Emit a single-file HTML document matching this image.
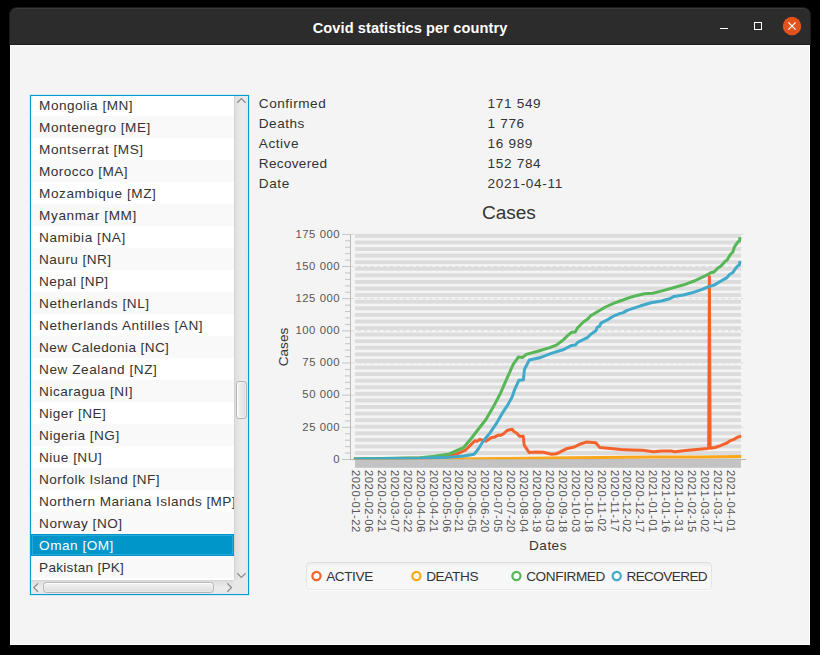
<!DOCTYPE html>
<html><head><meta charset="utf-8"><title>Covid statistics per country</title><style>
*{box-sizing:border-box;margin:0;padding:0}
html,body{width:820px;height:655px;overflow:hidden;background:#000}
body{position:relative;font-family:"Liberation Sans",sans-serif;}
.t{position:absolute;white-space:pre;font-family:"Liberation Sans",sans-serif;}
#frame{position:absolute;left:9px;top:7px;width:802px;height:38px;background:#1b1b1b;border-radius:8px 8px 0 0}
#tb{position:absolute;left:10px;top:8px;width:800px;height:36px;background:#2c2c2c;border-top:1px solid #3b3b3b;border-radius:7px 7px 0 0}
#title{position:absolute;left:10px;top:10px;width:800px;text-align:center;color:#fff;font-weight:bold;font-size:14.6px;line-height:36px;letter-spacing:0.09px}
#content{position:absolute;left:10px;top:45px;width:800px;height:600px;background:#f4f4f4;border:1px solid #fff}
.abs{position:absolute}
</style></head><body>
<div id="frame"></div><div id="tb"></div><div id="title">Covid statistics per country</div><div id="content"></div>
<div class="abs" style="left:720px;top:28px;width:8px;height:1px;background:#fff"></div>
<div class="abs" style="left:754px;top:22px;width:8px;height:8px;border:1px solid #fff"></div>
<svg class="abs" style="left:780px;top:14px" width="24" height="24" viewBox="0 0 24 24"><circle cx="12" cy="11.95" r="9.25" fill="#e2521d"/><path d="M8.4 8.4 L15.6 15.6 M15.6 8.4 L8.4 15.6" stroke="#fff" stroke-width="1.2" fill="none"/></svg>
<div class="abs" style="left:28.6px;top:93.6px;width:221.8px;height:502.8px;background:rgba(3,158,211,0.13);border-radius:2px"></div>
<div class="abs" style="left:29.7px;top:94.7px;width:219.6px;height:500.6px;background:#039ed3"></div>
<div class="abs" id="lv" style="left:31px;top:96px;width:217px;height:498px;background:#fff;overflow:hidden">
<div class="abs" style="left:0;top:-2px;width:203px;height:22px;background:#fff"></div>
<div class="t " style="left:8.10px;top:-0.21px;font-size:13.58px;line-height:19px;letter-spacing:0.495px;color:#333;">Mongolia [MN]</div>
<div class="abs" style="left:0;top:20px;width:203px;height:22px;background:#f9f9f9"></div>
<div class="t " style="left:8.10px;top:21.79px;font-size:13.58px;line-height:19px;letter-spacing:0.501px;color:#333;">Montenegro [ME]</div>
<div class="abs" style="left:0;top:42px;width:203px;height:22px;background:#fff"></div>
<div class="t " style="left:8.10px;top:43.79px;font-size:13.58px;line-height:19px;letter-spacing:0.528px;color:#333;">Montserrat [MS]</div>
<div class="abs" style="left:0;top:64px;width:203px;height:22px;background:#f9f9f9"></div>
<div class="t " style="left:8.10px;top:65.79px;font-size:13.58px;line-height:19px;letter-spacing:0.419px;color:#333;">Morocco [MA]</div>
<div class="abs" style="left:0;top:86px;width:203px;height:22px;background:#fff"></div>
<div class="t " style="left:8.10px;top:87.79px;font-size:13.58px;line-height:19px;letter-spacing:0.577px;color:#333;">Mozambique [MZ]</div>
<div class="abs" style="left:0;top:108px;width:203px;height:22px;background:#f9f9f9"></div>
<div class="t " style="left:8.10px;top:109.79px;font-size:13.58px;line-height:19px;letter-spacing:0.602px;color:#333;">Myanmar [MM]</div>
<div class="abs" style="left:0;top:130px;width:203px;height:22px;background:#fff"></div>
<div class="t " style="left:8.10px;top:131.79px;font-size:13.58px;line-height:19px;letter-spacing:0.555px;color:#333;">Namibia [NA]</div>
<div class="abs" style="left:0;top:152px;width:203px;height:22px;background:#f9f9f9"></div>
<div class="t " style="left:8.10px;top:153.79px;font-size:13.58px;line-height:19px;letter-spacing:0.460px;color:#333;">Nauru [NR]</div>
<div class="abs" style="left:0;top:174px;width:203px;height:22px;background:#fff"></div>
<div class="t " style="left:8.10px;top:175.79px;font-size:13.58px;line-height:19px;letter-spacing:0.370px;color:#333;">Nepal [NP]</div>
<div class="abs" style="left:0;top:196px;width:203px;height:22px;background:#f9f9f9"></div>
<div class="t " style="left:8.10px;top:197.79px;font-size:13.58px;line-height:19px;letter-spacing:0.534px;color:#333;">Netherlands [NL]</div>
<div class="abs" style="left:0;top:218px;width:203px;height:22px;background:#fff"></div>
<div class="t " style="left:8.10px;top:219.79px;font-size:13.58px;line-height:19px;letter-spacing:0.554px;color:#333;">Netherlands Antilles [AN]</div>
<div class="abs" style="left:0;top:240px;width:203px;height:22px;background:#f9f9f9"></div>
<div class="t " style="left:8.10px;top:241.79px;font-size:13.58px;line-height:19px;letter-spacing:0.398px;color:#333;">New Caledonia [NC]</div>
<div class="abs" style="left:0;top:262px;width:203px;height:22px;background:#fff"></div>
<div class="t " style="left:8.10px;top:263.79px;font-size:13.58px;line-height:19px;letter-spacing:0.554px;color:#333;">New Zealand [NZ]</div>
<div class="abs" style="left:0;top:284px;width:203px;height:22px;background:#f9f9f9"></div>
<div class="t " style="left:8.10px;top:285.79px;font-size:13.58px;line-height:19px;letter-spacing:0.516px;color:#333;">Nicaragua [NI]</div>
<div class="abs" style="left:0;top:306px;width:203px;height:22px;background:#fff"></div>
<div class="t " style="left:8.10px;top:307.79px;font-size:13.58px;line-height:19px;letter-spacing:0.449px;color:#333;">Niger [NE]</div>
<div class="abs" style="left:0;top:328px;width:203px;height:22px;background:#f9f9f9"></div>
<div class="t " style="left:8.10px;top:329.79px;font-size:13.58px;line-height:19px;letter-spacing:0.487px;color:#333;">Nigeria [NG]</div>
<div class="abs" style="left:0;top:350px;width:203px;height:22px;background:#fff"></div>
<div class="t " style="left:8.10px;top:351.79px;font-size:13.58px;line-height:19px;letter-spacing:0.467px;color:#333;">Niue [NU]</div>
<div class="abs" style="left:0;top:372px;width:203px;height:22px;background:#f9f9f9"></div>
<div class="t " style="left:8.10px;top:373.79px;font-size:13.58px;line-height:19px;letter-spacing:0.447px;color:#333;">Norfolk Island [NF]</div>
<div class="abs" style="left:0;top:394px;width:203px;height:22px;background:#fff"></div>
<div class="t " style="left:8.10px;top:395.79px;font-size:13.58px;line-height:19px;letter-spacing:0.443px;color:#333;">Northern Mariana Islands [MP]</div>
<div class="abs" style="left:0;top:416px;width:203px;height:22px;background:#f9f9f9"></div>
<div class="t " style="left:8.10px;top:417.79px;font-size:13.58px;line-height:19px;letter-spacing:0.527px;color:#333;">Norway [NO]</div>
<div class="abs" style="left:0;top:438px;width:203px;height:22px;background:#0096c9;border:1px solid #0096c9;box-shadow:inset 0 0 0 1px #2ba8d8"></div>
<div class="t " style="left:8.10px;top:439.79px;font-size:13.58px;line-height:19px;letter-spacing:0.514px;color:#fff;">Oman [OM]</div>
<div class="abs" style="left:0;top:460px;width:203px;height:22px;background:#f9f9f9"></div>
<div class="t " style="left:8.10px;top:461.79px;font-size:13.58px;line-height:19px;letter-spacing:0.272px;color:#333;">Pakistan [PK]</div>
<div class="abs" style="left:203px;top:0;width:14px;height:484px;background:linear-gradient(to right,#dedede,#ececec 55%,#e6e6e6);border-left:1px solid #d4d4d4"></div>
<div class="abs" style="left:205.2px;top:285.2px;width:10.6px;height:38.2px;border:1px solid #b4b4b4;border-radius:3px;background:linear-gradient(to right,#f4f4f4,#dcdcdc);box-shadow:inset 1px 0 0 0 rgba(255,255,255,.9),inset 0 0 0 1px rgba(255,255,255,.35)"></div>
<svg class="abs" style="left:203px;top:0" width="14" height="484" viewBox="0 0 14 484"><path d="M3.2 6.8 L7.4 2.6 L11.6 6.8" stroke="#8c8c8c" stroke-width="1.3" fill="none"/><path d="M3.2 477.2 L7.4 481.4 L11.6 477.2" stroke="#8c8c8c" stroke-width="1.3" fill="none"/></svg>
<div class="abs" style="left:0;top:484px;width:203px;height:14px;background:linear-gradient(to bottom,#dedede,#ececec 55%,#e6e6e6);border-top:1px solid #d4d4d4"></div>
<div class="abs" style="left:203px;top:484px;width:14px;height:14px;background:#e8e8e8"></div>
<div class="abs" style="left:11.9px;top:486.3px;width:170.8px;height:10.4px;border:1px solid #b4b4b4;border-radius:3.5px;background:linear-gradient(to bottom,#f4f4f4,#dcdcdc);box-shadow:inset 0 1px 0 0 rgba(255,255,255,.9),inset 0 0 0 1px rgba(255,255,255,.35)"></div>
<svg class="abs" style="left:0;top:484px" width="203" height="14" viewBox="0 0 203 14"><path d="M7 3.4 L2.8 7.6 L7 11.8" stroke="#8c8c8c" stroke-width="1.3" fill="none"/><path d="M196.3 3.4 L200.5 7.6 L196.3 11.8" stroke="#8c8c8c" stroke-width="1.3" fill="none"/></svg>
</div>
<div class="t " style="left:258.80px;top:93.59px;font-size:13.58px;line-height:19px;letter-spacing:0.536px;color:#333;">Confirmed</div>
<div class="t " style="left:487.60px;top:93.59px;font-size:13.58px;line-height:19px;letter-spacing:0.665px;color:#333;">171 549</div>
<div class="t " style="left:258.80px;top:113.59px;font-size:13.58px;line-height:19px;letter-spacing:0.507px;color:#333;">Deaths</div>
<div class="t " style="left:487.60px;top:113.59px;font-size:13.58px;line-height:19px;letter-spacing:0.644px;color:#333;">1 776</div>
<div class="t " style="left:258.80px;top:133.59px;font-size:13.58px;line-height:19px;letter-spacing:0.536px;color:#333;">Active</div>
<div class="t " style="left:487.60px;top:133.59px;font-size:13.58px;line-height:19px;letter-spacing:0.656px;color:#333;">16 989</div>
<div class="t " style="left:258.80px;top:153.59px;font-size:13.58px;line-height:19px;letter-spacing:0.317px;color:#333;">Recovered</div>
<div class="t " style="left:487.60px;top:153.59px;font-size:13.58px;line-height:19px;letter-spacing:0.665px;color:#333;">152 784</div>
<div class="t " style="left:258.80px;top:173.59px;font-size:13.58px;line-height:19px;letter-spacing:0.594px;color:#333;">Date</div>
<div class="t " style="left:487.60px;top:173.59px;font-size:13.58px;line-height:19px;letter-spacing:0.707px;color:#333;">2021-04-11</div>
<div class="t " style="left:481.89px;top:198.81px;font-size:19.02px;line-height:27px;letter-spacing:0.023px;color:#333;">Cases</div>
<div class="t" style="left:233.5px;top:336.5px;width:100px;height:20px;line-height:20px;text-align:center;font-size:13.58px;letter-spacing:0.016px;color:#333;transform:rotate(-90deg)">Cases</div>
<div class="t " style="left:529.08px;top:535.69px;font-size:13.58px;line-height:19px;letter-spacing:0.471px;color:#333;">Dates</div>
<div class="t " style="left:333.31px;top:450.68px;font-size:11.32px;line-height:16px;letter-spacing:0.596px;color:#575757;">0</div>
<div class="t " style="left:302.30px;top:418.52px;font-size:11.32px;line-height:16px;letter-spacing:0.547px;color:#575757;">25 000</div>
<div class="t " style="left:302.30px;top:386.36px;font-size:11.32px;line-height:16px;letter-spacing:0.547px;color:#575757;">50 000</div>
<div class="t " style="left:302.30px;top:354.20px;font-size:11.32px;line-height:16px;letter-spacing:0.547px;color:#575757;">75 000</div>
<div class="t " style="left:295.41px;top:322.04px;font-size:11.32px;line-height:16px;letter-spacing:0.554px;color:#575757;">100 000</div>
<div class="t " style="left:295.41px;top:289.88px;font-size:11.32px;line-height:16px;letter-spacing:0.554px;color:#575757;">125 000</div>
<div class="t " style="left:295.41px;top:257.72px;font-size:11.32px;line-height:16px;letter-spacing:0.554px;color:#575757;">150 000</div>
<div class="t " style="left:295.41px;top:225.56px;font-size:11.32px;line-height:16px;letter-spacing:0.554px;color:#575757;">175 000</div>
<svg class="abs" style="left:0;top:0" width="820" height="655" viewBox="0 0 820 655">
<rect x="355.0" y="233.95" width="386.0" height="3.90" fill="#dcdcdc"/>
<rect x="355.0" y="240.53" width="386.0" height="3.90" fill="#dcdcdc"/>
<rect x="355.0" y="247.11" width="386.0" height="3.90" fill="#dcdcdc"/>
<rect x="355.0" y="253.69" width="386.0" height="3.90" fill="#dcdcdc"/>
<rect x="355.0" y="260.27" width="386.0" height="3.90" fill="#dcdcdc"/>
<rect x="355.0" y="266.85" width="386.0" height="3.90" fill="#dcdcdc"/>
<rect x="355.0" y="273.43" width="386.0" height="3.90" fill="#dcdcdc"/>
<rect x="355.0" y="280.01" width="386.0" height="3.90" fill="#dcdcdc"/>
<rect x="355.0" y="286.59" width="386.0" height="3.90" fill="#dcdcdc"/>
<rect x="355.0" y="293.17" width="386.0" height="3.90" fill="#dcdcdc"/>
<rect x="355.0" y="299.75" width="386.0" height="3.90" fill="#dcdcdc"/>
<rect x="355.0" y="306.33" width="386.0" height="3.90" fill="#dcdcdc"/>
<rect x="355.0" y="312.91" width="386.0" height="3.90" fill="#dcdcdc"/>
<rect x="355.0" y="319.49" width="386.0" height="3.90" fill="#dcdcdc"/>
<rect x="355.0" y="326.07" width="386.0" height="3.90" fill="#dcdcdc"/>
<rect x="355.0" y="332.65" width="386.0" height="3.90" fill="#dcdcdc"/>
<rect x="355.0" y="339.23" width="386.0" height="3.90" fill="#dcdcdc"/>
<rect x="355.0" y="345.81" width="386.0" height="3.90" fill="#dcdcdc"/>
<rect x="355.0" y="352.39" width="386.0" height="3.90" fill="#dcdcdc"/>
<rect x="355.0" y="358.97" width="386.0" height="3.90" fill="#dcdcdc"/>
<rect x="355.0" y="365.55" width="386.0" height="3.90" fill="#dcdcdc"/>
<rect x="355.0" y="372.13" width="386.0" height="3.90" fill="#dcdcdc"/>
<rect x="355.0" y="378.71" width="386.0" height="3.90" fill="#dcdcdc"/>
<rect x="355.0" y="385.29" width="386.0" height="3.90" fill="#dcdcdc"/>
<rect x="355.0" y="391.87" width="386.0" height="3.90" fill="#dcdcdc"/>
<rect x="355.0" y="398.45" width="386.0" height="3.90" fill="#dcdcdc"/>
<rect x="355.0" y="405.03" width="386.0" height="3.90" fill="#dcdcdc"/>
<rect x="355.0" y="411.61" width="386.0" height="3.90" fill="#dcdcdc"/>
<rect x="355.0" y="418.19" width="386.0" height="3.90" fill="#dcdcdc"/>
<rect x="355.0" y="424.77" width="386.0" height="3.90" fill="#dcdcdc"/>
<rect x="355.0" y="431.35" width="386.0" height="3.90" fill="#dcdcdc"/>
<rect x="355.0" y="437.93" width="386.0" height="3.90" fill="#dcdcdc"/>
<rect x="355.0" y="444.51" width="386.0" height="3.90" fill="#dcdcdc"/>
<rect x="355.0" y="451.09" width="386.0" height="3.90" fill="#dcdcdc"/>
<rect x="355.0" y="457.67" width="386.0" height="1.63" fill="#dcdcdc"/>
<line x1="351" x2="743.3" y1="459.50" y2="459.50" stroke="#dcdcdc" stroke-width="1" stroke-dasharray="3.25 3.25"/>
<line x1="351" x2="743.3" y1="427.34" y2="427.34" stroke="#dcdcdc" stroke-width="1" stroke-dasharray="3.25 3.25"/>
<line x1="351" x2="743.3" y1="395.18" y2="395.18" stroke="#dcdcdc" stroke-width="1" stroke-dasharray="3.25 3.25"/>
<line x1="351" x2="743.3" y1="363.02" y2="363.02" stroke="#dcdcdc" stroke-width="1" stroke-dasharray="3.25 3.25"/>
<line x1="351" x2="743.3" y1="330.86" y2="330.86" stroke="#dcdcdc" stroke-width="1" stroke-dasharray="3.25 3.25"/>
<line x1="351" x2="743.3" y1="298.70" y2="298.70" stroke="#dcdcdc" stroke-width="1" stroke-dasharray="3.25 3.25"/>
<line x1="351" x2="743.3" y1="266.54" y2="266.54" stroke="#dcdcdc" stroke-width="1" stroke-dasharray="3.25 3.25"/>
<line x1="351" x2="743.3" y1="234.38" y2="234.38" stroke="#dcdcdc" stroke-width="1" stroke-dasharray="3.25 3.25"/>
<rect x="350" y="234" width="1" height="226" fill="#b9b9b9"/>
<line x1="342" x2="350.5" y1="459.50" y2="459.50" stroke="#c3c3c3" stroke-width="1"/>
<line x1="345" x2="350.5" y1="453.07" y2="453.07" stroke="#c3c3c3" stroke-width="1"/>
<line x1="345" x2="350.5" y1="446.64" y2="446.64" stroke="#c3c3c3" stroke-width="1"/>
<line x1="345" x2="350.5" y1="440.20" y2="440.20" stroke="#c3c3c3" stroke-width="1"/>
<line x1="345" x2="350.5" y1="433.77" y2="433.77" stroke="#c3c3c3" stroke-width="1"/>
<line x1="342" x2="350.5" y1="427.34" y2="427.34" stroke="#c3c3c3" stroke-width="1"/>
<line x1="345" x2="350.5" y1="420.91" y2="420.91" stroke="#c3c3c3" stroke-width="1"/>
<line x1="345" x2="350.5" y1="414.48" y2="414.48" stroke="#c3c3c3" stroke-width="1"/>
<line x1="345" x2="350.5" y1="408.04" y2="408.04" stroke="#c3c3c3" stroke-width="1"/>
<line x1="345" x2="350.5" y1="401.61" y2="401.61" stroke="#c3c3c3" stroke-width="1"/>
<line x1="342" x2="350.5" y1="395.18" y2="395.18" stroke="#c3c3c3" stroke-width="1"/>
<line x1="345" x2="350.5" y1="388.75" y2="388.75" stroke="#c3c3c3" stroke-width="1"/>
<line x1="345" x2="350.5" y1="382.32" y2="382.32" stroke="#c3c3c3" stroke-width="1"/>
<line x1="345" x2="350.5" y1="375.88" y2="375.88" stroke="#c3c3c3" stroke-width="1"/>
<line x1="345" x2="350.5" y1="369.45" y2="369.45" stroke="#c3c3c3" stroke-width="1"/>
<line x1="342" x2="350.5" y1="363.02" y2="363.02" stroke="#c3c3c3" stroke-width="1"/>
<line x1="345" x2="350.5" y1="356.59" y2="356.59" stroke="#c3c3c3" stroke-width="1"/>
<line x1="345" x2="350.5" y1="350.16" y2="350.16" stroke="#c3c3c3" stroke-width="1"/>
<line x1="345" x2="350.5" y1="343.72" y2="343.72" stroke="#c3c3c3" stroke-width="1"/>
<line x1="345" x2="350.5" y1="337.29" y2="337.29" stroke="#c3c3c3" stroke-width="1"/>
<line x1="342" x2="350.5" y1="330.86" y2="330.86" stroke="#c3c3c3" stroke-width="1"/>
<line x1="345" x2="350.5" y1="324.43" y2="324.43" stroke="#c3c3c3" stroke-width="1"/>
<line x1="345" x2="350.5" y1="318.00" y2="318.00" stroke="#c3c3c3" stroke-width="1"/>
<line x1="345" x2="350.5" y1="311.56" y2="311.56" stroke="#c3c3c3" stroke-width="1"/>
<line x1="345" x2="350.5" y1="305.13" y2="305.13" stroke="#c3c3c3" stroke-width="1"/>
<line x1="342" x2="350.5" y1="298.70" y2="298.70" stroke="#c3c3c3" stroke-width="1"/>
<line x1="345" x2="350.5" y1="292.27" y2="292.27" stroke="#c3c3c3" stroke-width="1"/>
<line x1="345" x2="350.5" y1="285.84" y2="285.84" stroke="#c3c3c3" stroke-width="1"/>
<line x1="345" x2="350.5" y1="279.40" y2="279.40" stroke="#c3c3c3" stroke-width="1"/>
<line x1="345" x2="350.5" y1="272.97" y2="272.97" stroke="#c3c3c3" stroke-width="1"/>
<line x1="342" x2="350.5" y1="266.54" y2="266.54" stroke="#c3c3c3" stroke-width="1"/>
<line x1="345" x2="350.5" y1="260.11" y2="260.11" stroke="#c3c3c3" stroke-width="1"/>
<line x1="345" x2="350.5" y1="253.68" y2="253.68" stroke="#c3c3c3" stroke-width="1"/>
<line x1="345" x2="350.5" y1="247.24" y2="247.24" stroke="#c3c3c3" stroke-width="1"/>
<line x1="345" x2="350.5" y1="240.81" y2="240.81" stroke="#c3c3c3" stroke-width="1"/>
<line x1="342" x2="350.5" y1="234.38" y2="234.38" stroke="#c3c3c3" stroke-width="1"/>
<rect x="350" y="459" width="396" height="1" fill="#b4b4b4"/>
<rect x="355.09999999999997" y="459.2" width="385.8" height="8.6" fill="#c3c3c3"/>
<defs><clipPath id="pc"><rect x="351" y="230" width="393" height="229.2"/></clipPath></defs>
<g clip-path="url(#pc)" fill="none" stroke-width="3" stroke-linejoin="round" stroke-linecap="square">
<polyline stroke="#f3622d" points="355.4,458.9 430.0,458.0 449.3,456.1 456.6,453.9 465.4,450.2 471.2,444.4 474.9,440.7 477.1,441.2 480.0,439.3 482.9,440.3 485.9,441.2 491.7,437.4 494.6,437.1 498.3,435.0 500.5,435.3 503.4,433.9 507.1,430.5 510.0,429.8 512.2,429.3 513.7,431.5 516.6,433.0 519.5,436.3 523.2,436.3 524.2,445.1 529.0,452.4 535.6,452.0 543.4,452.3 551.5,454.2 556.8,453.7 566.2,448.8 574.3,447.0 579.6,444.3 586.3,442.1 595.7,442.7 599.8,447.5 610.5,448.6 621.2,449.6 632.0,449.9 642.7,450.2 653.4,451.8 661.5,451.0 670.9,451.0 674.9,451.8 685.6,450.4 696.4,449.6 707.1,448.6 708.7,447.8 709.4,276.5 710.1,448.3 715.1,447.5 720.5,445.6 727.2,442.9 729.9,440.8 733.9,439.4 737.9,437.0 739.8,436.5"/>
<polyline stroke="#fba71b" points="355.4,458.9 440.0,458.9 480.0,458.8 500.0,458.6 530.0,458.2 570.0,457.7 600.0,457.4 650.0,457.0 700.0,456.9 739.8,456.6"/>
<polyline stroke="#57b757" points="355.4,458.9 420.0,457.8 434.6,456.3 449.3,453.9 463.9,447.3 471.2,438.5 478.5,429.0 485.9,419.5 493.2,407.1 500.5,393.2 507.3,377.6 513.2,364.4 518.3,357.1 522.7,357.4 526.3,354.4 538.0,351.2 549.8,347.6 556.3,345.1 562.9,340.2 567.3,335.9 571.7,332.2 575.4,331.9 577.6,327.8 583.4,322.0 587.8,319.0 590.7,315.8 599.5,310.5 605.4,307.0 614.1,303.2 620.2,301.0 632.2,296.7 644.1,293.8 652.7,293.3 661.2,291.1 674.9,287.3 685.1,284.4 695.4,280.5 705.6,275.7 710.7,272.8 714.1,272.0 717.6,268.2 721.0,266.0 725.2,261.2 727.0,260.3 730.4,254.4 732.9,252.0 734.3,247.2 738.1,241.7 739.4,241.2 739.8,238.6"/>
<polyline stroke="#41a9c9" points="355.4,458.9 420.0,458.3 449.3,457.3 463.9,456.1 474.1,454.3 478.5,448.8 482.9,441.5 490.2,432.7 496.1,423.9 502.0,413.7 507.8,404.9 512.2,396.8 514.4,390.2 519.0,380.2 523.4,379.8 524.4,369.5 529.3,360.0 539.5,357.8 551.2,353.4 562.9,349.8 571.7,345.4 575.4,345.1 577.6,342.4 587.8,337.3 590.7,334.4 595.9,330.7 597.3,327.1 599.5,326.3 601.0,323.1 606.8,320.2 614.1,315.8 620.2,313.4 622.8,312.9 627.1,310.4 640.7,305.8 651.0,302.7 661.2,301.0 669.8,298.8 674.0,296.4 683.4,295.0 692.0,292.8 702.2,289.4 709.0,286.5 714.1,285.1 721.0,281.0 727.0,277.6 729.5,274.5 732.9,272.5 735.5,268.5 738.1,265.6 739.4,265.1 739.8,262.5"/>
</g>
</svg>
<div class="t" style="left:363.10px;top:470.0px;height:14px;line-height:14px;font-size:11.32px;letter-spacing:0.505px;color:#575757;transform-origin:0 0;transform:rotate(90deg)">2020-01-22</div>
<div class="t" style="left:376.02px;top:470.0px;height:14px;line-height:14px;font-size:11.32px;letter-spacing:0.505px;color:#575757;transform-origin:0 0;transform:rotate(90deg)">2020-02-06</div>
<div class="t" style="left:388.94px;top:470.0px;height:14px;line-height:14px;font-size:11.32px;letter-spacing:0.505px;color:#575757;transform-origin:0 0;transform:rotate(90deg)">2020-02-21</div>
<div class="t" style="left:401.86px;top:470.0px;height:14px;line-height:14px;font-size:11.32px;letter-spacing:0.505px;color:#575757;transform-origin:0 0;transform:rotate(90deg)">2020-03-07</div>
<div class="t" style="left:414.78px;top:470.0px;height:14px;line-height:14px;font-size:11.32px;letter-spacing:0.505px;color:#575757;transform-origin:0 0;transform:rotate(90deg)">2020-03-22</div>
<div class="t" style="left:427.70px;top:470.0px;height:14px;line-height:14px;font-size:11.32px;letter-spacing:0.505px;color:#575757;transform-origin:0 0;transform:rotate(90deg)">2020-04-06</div>
<div class="t" style="left:440.62px;top:470.0px;height:14px;line-height:14px;font-size:11.32px;letter-spacing:0.505px;color:#575757;transform-origin:0 0;transform:rotate(90deg)">2020-04-21</div>
<div class="t" style="left:453.54px;top:470.0px;height:14px;line-height:14px;font-size:11.32px;letter-spacing:0.505px;color:#575757;transform-origin:0 0;transform:rotate(90deg)">2020-05-06</div>
<div class="t" style="left:466.46px;top:470.0px;height:14px;line-height:14px;font-size:11.32px;letter-spacing:0.505px;color:#575757;transform-origin:0 0;transform:rotate(90deg)">2020-05-21</div>
<div class="t" style="left:479.38px;top:470.0px;height:14px;line-height:14px;font-size:11.32px;letter-spacing:0.505px;color:#575757;transform-origin:0 0;transform:rotate(90deg)">2020-06-05</div>
<div class="t" style="left:492.30px;top:470.0px;height:14px;line-height:14px;font-size:11.32px;letter-spacing:0.505px;color:#575757;transform-origin:0 0;transform:rotate(90deg)">2020-06-20</div>
<div class="t" style="left:505.22px;top:470.0px;height:14px;line-height:14px;font-size:11.32px;letter-spacing:0.505px;color:#575757;transform-origin:0 0;transform:rotate(90deg)">2020-07-05</div>
<div class="t" style="left:518.14px;top:470.0px;height:14px;line-height:14px;font-size:11.32px;letter-spacing:0.505px;color:#575757;transform-origin:0 0;transform:rotate(90deg)">2020-07-20</div>
<div class="t" style="left:531.06px;top:470.0px;height:14px;line-height:14px;font-size:11.32px;letter-spacing:0.505px;color:#575757;transform-origin:0 0;transform:rotate(90deg)">2020-08-04</div>
<div class="t" style="left:543.98px;top:470.0px;height:14px;line-height:14px;font-size:11.32px;letter-spacing:0.505px;color:#575757;transform-origin:0 0;transform:rotate(90deg)">2020-08-19</div>
<div class="t" style="left:556.90px;top:470.0px;height:14px;line-height:14px;font-size:11.32px;letter-spacing:0.505px;color:#575757;transform-origin:0 0;transform:rotate(90deg)">2020-09-03</div>
<div class="t" style="left:569.82px;top:470.0px;height:14px;line-height:14px;font-size:11.32px;letter-spacing:0.505px;color:#575757;transform-origin:0 0;transform:rotate(90deg)">2020-09-18</div>
<div class="t" style="left:582.74px;top:470.0px;height:14px;line-height:14px;font-size:11.32px;letter-spacing:0.505px;color:#575757;transform-origin:0 0;transform:rotate(90deg)">2020-10-03</div>
<div class="t" style="left:595.66px;top:470.0px;height:14px;line-height:14px;font-size:11.32px;letter-spacing:0.505px;color:#575757;transform-origin:0 0;transform:rotate(90deg)">2020-10-18</div>
<div class="t" style="left:608.58px;top:470.0px;height:14px;line-height:14px;font-size:11.32px;letter-spacing:0.505px;color:#575757;transform-origin:0 0;transform:rotate(90deg)">2020-11-02</div>
<div class="t" style="left:621.50px;top:470.0px;height:14px;line-height:14px;font-size:11.32px;letter-spacing:0.505px;color:#575757;transform-origin:0 0;transform:rotate(90deg)">2020-11-17</div>
<div class="t" style="left:634.42px;top:470.0px;height:14px;line-height:14px;font-size:11.32px;letter-spacing:0.505px;color:#575757;transform-origin:0 0;transform:rotate(90deg)">2020-12-02</div>
<div class="t" style="left:647.34px;top:470.0px;height:14px;line-height:14px;font-size:11.32px;letter-spacing:0.505px;color:#575757;transform-origin:0 0;transform:rotate(90deg)">2020-12-17</div>
<div class="t" style="left:660.26px;top:470.0px;height:14px;line-height:14px;font-size:11.32px;letter-spacing:0.505px;color:#575757;transform-origin:0 0;transform:rotate(90deg)">2021-01-01</div>
<div class="t" style="left:673.18px;top:470.0px;height:14px;line-height:14px;font-size:11.32px;letter-spacing:0.505px;color:#575757;transform-origin:0 0;transform:rotate(90deg)">2021-01-16</div>
<div class="t" style="left:686.10px;top:470.0px;height:14px;line-height:14px;font-size:11.32px;letter-spacing:0.505px;color:#575757;transform-origin:0 0;transform:rotate(90deg)">2021-01-31</div>
<div class="t" style="left:699.02px;top:470.0px;height:14px;line-height:14px;font-size:11.32px;letter-spacing:0.505px;color:#575757;transform-origin:0 0;transform:rotate(90deg)">2021-02-15</div>
<div class="t" style="left:711.94px;top:470.0px;height:14px;line-height:14px;font-size:11.32px;letter-spacing:0.505px;color:#575757;transform-origin:0 0;transform:rotate(90deg)">2021-03-02</div>
<div class="t" style="left:724.86px;top:470.0px;height:14px;line-height:14px;font-size:11.32px;letter-spacing:0.505px;color:#575757;transform-origin:0 0;transform:rotate(90deg)">2021-03-17</div>
<div class="t" style="left:737.78px;top:470.0px;height:14px;line-height:14px;font-size:11.32px;letter-spacing:0.505px;color:#575757;transform-origin:0 0;transform:rotate(90deg)">2021-04-01</div>
<div class="abs" style="left:305.7px;top:562px;width:406.4px;height:27.5px;border-radius:4.5px;background:linear-gradient(to bottom,#dfdfdf,#e9e9e9);box-shadow:0 1px 0 rgba(255,255,255,.7)"></div>
<div class="abs" style="left:306.7px;top:563px;width:404.4px;height:25.5px;border-radius:3.5px;background:linear-gradient(to bottom,#ededed 0px,#f7f7f7 4px)"></div>
<svg class="abs" style="left:308px;top:568px" width="16" height="16" viewBox="0 0 16 16"><circle cx="8.45" cy="8" r="4.1" fill="#fff" stroke="#f3622d" stroke-width="2.2"/></svg>
<div class="t " style="left:326.20px;top:566.89px;font-size:13.58px;line-height:19px;letter-spacing:-0.407px;color:#333;">ACTIVE</div>
<svg class="abs" style="left:408px;top:568px" width="16" height="16" viewBox="0 0 16 16"><circle cx="8.40" cy="8" r="4.1" fill="#fff" stroke="#fba71b" stroke-width="2.2"/></svg>
<div class="t " style="left:426.15px;top:566.89px;font-size:13.58px;line-height:19px;letter-spacing:-0.337px;color:#333;">DEATHS</div>
<svg class="abs" style="left:508px;top:568px" width="16" height="16" viewBox="0 0 16 16"><circle cx="8.45" cy="8" r="4.1" fill="#fff" stroke="#57b757" stroke-width="2.2"/></svg>
<div class="t " style="left:526.20px;top:566.89px;font-size:13.58px;line-height:19px;letter-spacing:-0.382px;color:#333;">CONFIRMED</div>
<svg class="abs" style="left:608px;top:568px" width="16" height="16" viewBox="0 0 16 16"><circle cx="8.70" cy="8" r="4.1" fill="#fff" stroke="#41a9c9" stroke-width="2.2"/></svg>
<div class="t " style="left:626.45px;top:566.89px;font-size:13.58px;line-height:19px;letter-spacing:-0.596px;color:#333;">RECOVERED</div>
</body></html>
